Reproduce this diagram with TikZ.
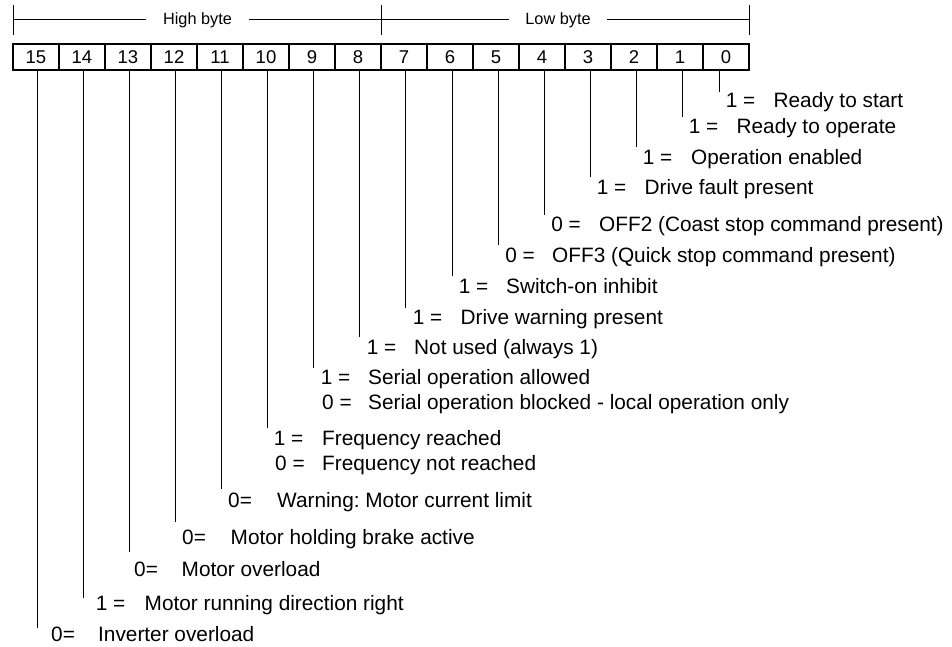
\documentclass[tikz,border=0pt]{standalone}
\usepackage{fontspec}
\setmainfont{Liberation Sans}
\frenchspacing
\begin{document}
\begin{tikzpicture}[x=1pt,y=-1pt,
  cell/.style={draw,line width=1.1pt,minimum width=46pt,minimum height=26pt,inner sep=0pt,font=\fontsize{18.5}{20}\selectfont},
  lbl/.style={anchor=base west,inner sep=0pt,font=\fontsize{20.8}{24}\selectfont},
  hdr/.style={inner xsep=16.5pt,inner ysep=0pt,font=\fontsize{16.3}{18}\selectfont},
  lead/.style={line width=1pt},
  rule/.style={line width=1pt}]
\useasboundingbox (0,0) rectangle (952,647);

% header
\coordinate (L) at (13,20);
\coordinate (M) at (381,20);
\coordinate (R) at (749,20);
\node[hdr] (hb) at (197.5,20) {High byte};
\node[hdr] (lb) at (558,20) {Low byte};
\draw[rule] (L) -- (hb.west);
\draw[rule] (hb.east) -- (lb.west);
\draw[rule] (lb.east) -- (R);
\foreach \c in {L,M,R} \draw[rule] ([yshift=15pt]\c) -- ([yshift=-15pt]\c);

% bit cells
\foreach \i in {0,...,15} \node[cell] (b\i) at ({36+46*(15-\i)},57) {\i};

% lead line end points
\foreach \i/\lx/\ly in {0/719/92,1/682/117,2/636/147,3/590/177,4/544/215,5/498/245,6/452/276,7/405/308,8/359/337,9/313/368,10/267/428,11/221/489,12/175/522,13/129/552,14/83/598,15/37/628}{
  \coordinate (e\i) at (\lx,\ly);
  \draw[lead] (e\i |- b\i.south) -- (e\i);
}

% labels
\foreach \n/\bl/\px/\pre/\tx/\txt in {
  0/107.5/725.7/{1 =}/773.4/{Ready to start},
  1/133.5/688.7/{1 =}/736.4/{Ready to operate},
  2/164.5/642.7/{1 =}/691/{Operation enabled},
  3/194.5/596.7/{1 =}/644.4/{Drive fault present},
  4/231.5/551.1/{0 =}/599/{OFF2 (Coast stop command present)},
  5/262.5/505.1/{0 =}/552/{OFF3 (Quick stop command present)},
  6/293.5/458.7/{1 =}/506/{Switch-on inhibit},
  7/324.5/412.7/{1 =}/460.4/{Drive warning present},
  8/354.5/366.7/{1 =}/414/{Not used (always 1)},
  9a/384.5/320.7/{1 =}/368/{Serial operation allowed},
  9b/409.5/322/{0 =}/368/{Serial operation blocked - local operation only},
  10a/445.5/273.7/{1 =}/322/{Frequency reached},
  10b/470.5/275/{0 =}/322/{Frequency not reached},
  11/507.5/228/{0=}/277/{Warning: Motor current limit},
  12/544.5/182/{0=}/230.5/{Motor holding brake active},
  13/576.5/134/{0=}/181.5/{Motor overload},
  14/610.5/95.7/{1 =}/144.5/{Motor running direction right},
  15/641.5/51/{0=}/98/{Inverter overload}}{
  \node[lbl] (p\n) at (\px,\bl) {\pre};
  \node[lbl] (t\n) at (\tx,\bl) {\txt};
}
\end{tikzpicture}
\end{document}
